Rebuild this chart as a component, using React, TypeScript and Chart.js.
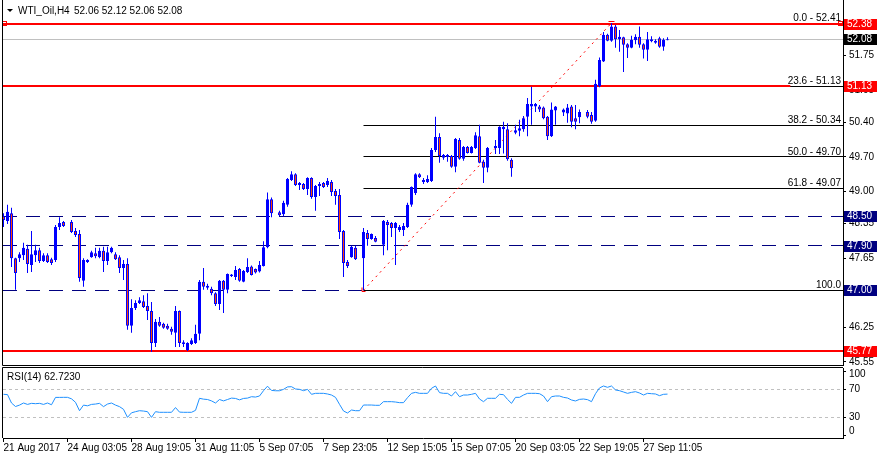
import React, { useEffect, useRef } from "react";
import { Chart, registerables } from "chart.js";

Chart.register(...registerables);

const FONT = "'Liberation Sans', Arial, sans-serif";
const FONT_CSS = "10px 'Liberation Sans', Arial, sans-serif";
const BLUE = "#0000FF";
const BEAR_FILL = "#FF4500";
const NAVY = "#000080";
const RED = "#FF0000";

const symbolTitle = "WTI_Oil,H4";
const lastOHLC = [52.06, 52.12, 52.06, 52.08];

const opens = [
  48.50, 48.40, 48.56, 47.65, 47.65, 47.71, 47.84, 47.51, 47.71, 47.81,
  47.59, 47.71, 47.63, 47.61, 48.28, 48.38, null, 48.38, 48.20, 48.14,
  47.19, 47.57, 47.67, 47.75, 47.67, 47.80, 47.59, 47.77, 47.73, 47.67,
  47.45, 47.53, 46.28, 46.64, 46.74, 46.78, 46.68, 46.58, 45.93, 46.36,
  46.32, 46.28, 46.22, 46.14, 46.58, 45.91, 45.79, 45.91, 45.93, 46.12,
  47.17, 47.05, 47.03, 46.94, 46.72, 47.19, 47.01, 47.29, 47.27, 47.43,
  47.17, 47.37, 47.48, 47.43, 47.38, 47.49, 47.87, 48.84, null, 48.58,
  48.54, 48.73, 49.23, 49.35, 49.13, 49.15, 49.05, 49.27, 48.89, 49.11,
  49.17, 49.13, 49.19, 49.01, 48.93, 48.20, 47.57, 47.67, 47.86, null,
  47.65, 48.16, 48.04, 48.06, null, 47.92, 48.38, 48.36, 48.26, 48.22,
  48.22, 48.28, 48.73, 48.97, 49.35, 49.19, 49.19, 49.21, 49.84, 50.10,
  49.68, 49.74, 49.72, 49.50, 50.04, 49.66, 49.90, 49.78, 49.88, 50.12,
  49.60, 49.48, null, 49.88, 49.88, 50.26, 50.26, 49.64, 50.19, 50.23,
  50.26, 50.51, 50.72, 50.72, 50.72, 50.70, 50.51, 50.12, 50.64, null,
  50.60, 50.58, 50.72, 50.48, 50.50, null, 50.61, 50.55, 50.43, 51.13,
  51.63, 52.17, 52.05, 52.34, 52.08, 52.12, 51.98, 51.91, 52.06, 52.13,
  51.98, 51.87, 52.08, 52.01, 52.10, 51.93, 52.06,
];
const highs = [
  48.56, 48.73, 48.67, 47.66, 47.77, 47.96, 47.92, 48.20, 47.92, 47.86,
  47.75, 47.75, 47.66, 48.32, 48.48, 48.40, null, 48.42, 48.26, 48.22,
  47.65, 47.63, 47.80, 47.86, 47.86, 47.88, 47.88, 47.88, 47.77, 47.71,
  47.61, 47.65, 46.82, 46.80, 46.86, 46.90, 46.94, 46.76, 46.42, 46.46,
  46.34, 46.32, 46.26, 46.68, 46.59, 45.99, 45.95, 46.03, 46.30, 47.21,
  47.45, 47.13, 47.07, 46.96, 47.21, 47.21, 47.34, 47.33, 47.49, 47.45,
  47.41, 47.65, 47.50, 47.44, 47.59, 47.99, 48.98, 48.88, null, 48.61,
  48.81, 49.27, 49.41, 49.37, 49.19, 49.17, 49.29, 49.29, 49.13, 49.19,
  49.19, 49.27, 49.23, 49.05, 49.05, 48.22, 47.61, 47.90, 47.90, null,
  48.26, 48.22, 48.15, 48.10, null, 48.42, 48.42, 48.38, 48.38, 48.32,
  48.36, 48.77, 49.10, 49.37, 49.37, 49.27, 49.33, 49.88, 50.51, 50.18,
  49.76, 49.76, 49.74, 50.08, 50.08, 49.92, 49.92, 49.92, 50.20, 50.35,
  49.64, 49.90, null, 50.04, 50.32, 50.41, 50.38, 49.67, 50.35, 50.45,
  50.53, 50.89, 51.12, 50.79, 50.75, 50.72, 50.53, 50.80, 50.73, null,
  50.68, 50.77, 50.75, 50.75, 50.66, null, 50.65, 50.61, 51.26, 51.71,
  52.23, 52.19, 52.41, 52.37, 52.27, 52.13, 52.00, 52.15, 52.18, 52.34,
  52.00, 52.23, 52.14, 52.08, 52.13, 52.10, 52.12,
];
const lows = [
  48.28, 48.34, 47.47, 47.01, 47.57, 47.61, 47.35, 47.37, 47.57, 47.55,
  47.57, 47.55, 47.51, 47.57, 48.22, 48.28, null, 48.16, 48.08, 47.17,
  47.07, 47.55, 47.66, 47.65, 47.65, 47.37, 47.51, 47.75, 47.61, 47.35,
  47.21, 46.20, 46.14, 46.60, 46.72, 46.64, 46.40, 45.75, 45.85, 46.26,
  46.22, 46.20, 46.10, 45.85, 45.85, 45.85, 45.77, 45.89, 45.91, 45.99,
  47.01, 47.01, 46.90, 46.68, 46.60, 46.54, 46.94, 47.27, 47.21, 47.17,
  47.16, 47.35, 47.30, 47.34, 47.36, 47.48, 47.85, 48.48, null, 48.50,
  48.50, 48.69, 49.21, 49.11, 49.03, 49.03, 48.93, 48.85, 48.61, 48.91,
  49.07, 49.09, 48.91, 48.73, 48.04, 47.27, 47.45, 47.66, 47.61, null,
  47.00, 47.90, 48.02, 47.97, null, 47.71, 47.81, 48.08, 47.51, 48.18,
  48.10, 48.26, 48.69, 48.93, 49.27, 49.15, 49.17, 49.19, 49.80, 49.58,
  49.64, 49.60, 49.48, 49.39, 49.64, 49.62, 49.77, 49.77, 49.86, 49.57,
  49.17, 49.39, null, 49.76, 49.76, 49.77, 49.62, 49.30, 50.16, 50.12,
  50.21, 50.12, 50.35, 50.61, 50.61, 50.46, 50.04, 50.10, 50.35, null,
  50.53, 50.39, 50.30, 50.26, 50.38, null, 50.48, 50.37, 50.41, 51.11,
  51.62, 52.04, 52.03, 51.91, 51.83, 51.42, 51.70, 51.90, 51.98, 51.91,
  51.69, 51.64, 52.02, 51.99, 51.91, 51.85, 52.06,
];
const closes = [
  48.42, 48.59, 47.65, 47.35, 47.73, 47.86, 47.53, 47.73, 47.81, 47.59,
  47.71, 47.57, 47.55, 48.28, 48.36, 48.30, null, 48.18, 48.12, 47.25,
  47.61, 47.61, 47.77, 47.69, 47.80, 47.59, 47.77, 47.86, 47.63, 47.45,
  47.53, 46.28, 46.64, 46.74, 46.80, 46.66, 46.58, 45.93, 46.36, 46.28,
  46.24, 46.22, 46.16, 46.58, 45.93, 45.95, 45.93, 45.99, 46.12, 47.17,
  47.07, 47.09, 46.94, 46.72, 47.19, 47.01, 47.33, 47.32, 47.41, 47.19,
  47.39, 47.47, 47.31, 47.36, 47.51, 47.87, 48.84, 48.56, null, 48.52,
  48.77, 49.25, 49.35, 49.13, 49.17, 49.05, 49.27, 48.89, 49.11, 49.15,
  49.09, 49.21, 48.99, 48.91, 48.18, 47.55, 47.49, 47.88, 47.63, null,
  48.18, 48.04, 48.14, 47.98, null, 48.40, 48.32, 48.26, 48.36, 48.28,
  48.30, 48.73, 49.09, 49.35, 49.29, 49.23, 49.25, 49.84, 50.10, 49.72,
  49.74, 49.70, 49.50, 50.06, 49.66, 49.90, 49.78, 49.90, 50.14, 49.58,
  49.48, 49.88, null, 49.92, 50.31, 50.31, 49.65, 49.47, 50.24, 50.28,
  50.48, 50.77, 50.77, 50.77, 50.66, 50.48, 50.12, 50.66, 50.72, null,
  50.66, 50.70, 50.41, 50.41, 50.61, null, 50.51, 50.41, 51.18, 51.66,
  52.17, 52.05, 52.34, 52.08, 52.13, 51.97, 51.91, 52.07, 52.13, 51.97,
  51.87, 52.08, 52.04, 52.05, 51.93, 52.07, 52.08,
];

const rsi14 = [
  62.4, 62, 50, 45, 47, 50, 48, 49.5, 49, 49.5,
  48, 50, 47.5, 58, 58, 58.1, 58.1, 56, 51, 39,
  47, 46, 48, 48.5, 49.5, 44.8, 48.5, 50, 47, 44.8,
  41, 29.5, 36, 37.6, 39, 38.5, 37.6, 29.5, 37.6, 36.7,
  36.7, 36.7, 36.7, 43.5, 37, 36.7, 36.7, 36.7, 39.5, 56.7,
  55.5, 55, 53, 50, 55, 53, 55, 57, 56.5, 54.5,
  56.5, 57, 59, 58.5, 60, 67.6, 74, 68, 67.5, 67.5,
  69.5, 73, 73.3, 70, 69.5, 67.6, 69.5, 62.4, 63.8, 63.8,
  63.8, 62.9, 61.4, 58.1, 48.1, 38.6, 35.7, 40, 39, 39,
  47.1, 47.1, 47.1, 46.7, 46.7, 51.9, 51.9, 51.9, 51.4, 50.5,
  50.5, 57.6, 63.8, 65.2, 63.8, 63.8, 63.8, 71, 74.3, 64.8,
  63.8, 63.8, 60, 66.2, 59, 61.4, 61.4, 62.4, 63.8, 55.7,
  51.9, 56.7, 56.7, 56.7, 62.4, 61.9, 55.2, 49.5, 58.1, 58.1,
  61.4, 63.8, 63.8, 63.8, 63.3, 60, 51.9, 59, 60, 60,
  58.1, 57.1, 54.3, 52.9, 55.2, 55.7, 54.8, 51.9, 63.3, 71.5,
  74.3, 72.4, 74.3, 68.6, 67.6, 65.7, 63.8, 65.2, 66.2, 64.3,
  61.4, 63.8, 63.3, 62.9, 60.5, 62.4, 62.72,
];
const rsiPeriod = 14;
const rsiLast = 62.723;

const timeTickBars = [0, 16, 32, 48, 64, 80, 96, 112, 128, 144, 160];
const timeTickLabels = [
  "21 Aug 2017", "24 Aug 03:05", "28 Aug 19:05", "31 Aug 11:05", "5 Sep 07:05",
  "7 Sep 23:05", "12 Sep 15:05", "15 Sep 07:05", "20 Sep 03:05", "22 Sep 19:05", "27 Sep 11:05",
];

const priceTicks = [51.75, 51.05, 50.40, 49.70, 49.00, 48.35, 47.65, 46.95, 46.25, 45.55];
const rsiTicks = [100, 70, 30, 0];
const rsiLevels = [70, 30];

const X_MIN = -0.125;
const X_MAX = 209.875;
const Y_MIN = 45.487;
const Y_MAX = 52.815;

const bidPrice = 52.08;
const redLines = [
  { price: 52.38, from: X_MIN, to: X_MAX },
  { price: 51.13, from: X_MIN, to: 196.7 },
  { price: 45.77, from: X_MIN, to: X_MAX },
];
const dashedLevels = [48.50, 47.90, 47.00];
const fibLowBar = 90;
const fibLow = 47.00;
const fibHighBar = 152;
const fibHigh = 52.41;
const fibRatios = [0, 23.6, 38.2, 50.0, 61.8, 100];
const fibLabels = ["0.0 - 52.41", "23.6 - 51.13", "38.2 - 50.34", "50.0 - 49.70", "61.8 - 49.07", "100.0"];
const priceTags = [
  { price: 52.38, bg: RED },
  { price: 52.08, bg: "#000000" },
  { price: 51.13, bg: RED },
  { price: 48.50, bg: NAVY },
  { price: 47.90, bg: NAVY },
  { price: 47.00, bg: NAVY },
  { price: 45.77, bg: RED },
];

const crisp = (v: number) => Math.floor(v) + 0.5;

function hline(ctx: CanvasRenderingContext2D, x1: number, x2: number, y: number) {
  ctx.beginPath();
  ctx.moveTo(x1, y);
  ctx.lineTo(x2, y);
  ctx.stroke();
}

const mainOverlay = {
  id: "mainOverlay",
  beforeDatasetsDraw(chart: any) {
    const { ctx, chartArea: a, scales } = chart;
    const x = scales.x;
    const y = scales.y;
    ctx.save();
    ctx.beginPath();
    ctx.rect(a.left, 0, a.right - a.left, a.bottom);
    ctx.clip();
    // bid line
    ctx.lineWidth = 1;
    ctx.strokeStyle = "#C0C0C0";
    hline(ctx, a.left, a.right, crisp(y.getPixelForValue(bidPrice)));
    // dashed navy levels
    ctx.strokeStyle = NAVY;
    ctx.setLineDash([14, 9]);
    for (const p of dashedLevels) hline(ctx, a.left, a.right, crisp(y.getPixelForValue(p)));
    ctx.setLineDash([]);
    // fib levels
    ctx.strokeStyle = "#000000";
    const fx = x.getPixelForValue(fibLowBar);
    for (const r of fibRatios) {
      const p = fibHigh - (r / 100) * (fibHigh - fibLow);
      hline(ctx, fx, a.right, crisp(y.getPixelForValue(p)));
    }
    // red lines
    ctx.strokeStyle = RED;
    ctx.lineWidth = 2;
    for (const l of redLines) {
      hline(ctx, x.getPixelForValue(l.from), x.getPixelForValue(l.to), Math.round(y.getPixelForValue(l.price)));
    }
    // fib trend (dotted)
    ctx.lineWidth = 1;
    ctx.setLineDash([2, 4]);
    ctx.beginPath();
    ctx.moveTo(x.getPixelForValue(fibLowBar), y.getPixelForValue(fibLow));
    ctx.lineTo(x.getPixelForValue(fibHighBar), y.getPixelForValue(fibHigh));
    ctx.stroke();
    ctx.setLineDash([]);
    ctx.restore();
  },
  afterDraw(chart: any) {
    const { ctx, chartArea: a, scales } = chart;
    const x = scales.x;
    const y = scales.y;
    ctx.save();
    ctx.font = FONT_CSS;
    // fib labels
    ctx.fillStyle = "#000000";
    ctx.textAlign = "right";
    ctx.textBaseline = "alphabetic";
    fibRatios.forEach((r, i) => {
      const p = fibHigh - (r / 100) * (fibHigh - fibLow);
      ctx.fillText(fibLabels[i], a.right - 2, Math.round(y.getPixelForValue(p)) - 2);
    });
    // markers of selected objects
    ctx.strokeStyle = RED;
    ctx.lineWidth = 1;
    const ry = Math.round(y.getPixelForValue(redLines[0].price));
    ctx.strokeRect(2.5, ry - 2.5, 4, 4);
    ctx.strokeRect(a.right - 4.5, ry - 2.5, 4, 4);
    ctx.beginPath();
    const hx = x.getPixelForValue(fibHighBar);
    const hy = Math.round(y.getPixelForValue(fibHigh)) - 1.5;
    ctx.moveTo(hx - 3, hy);
    ctx.lineTo(hx + 3, hy);
    const lx = x.getPixelForValue(fibLowBar);
    const ly = Math.round(y.getPixelForValue(fibLow)) + 0.5;
    ctx.moveTo(lx - 1.5, ly - 3);
    ctx.lineTo(lx - 1.5, ly + 1);
    ctx.lineTo(lx + 2, ly + 1);
    ctx.stroke();
    // title
    ctx.fillStyle = "#000000";
    ctx.beginPath();
    ctx.moveTo(7, 9);
    ctx.lineTo(13, 9);
    ctx.lineTo(10, 12);
    ctx.closePath();
    ctx.fill();
    ctx.textAlign = "left";
    ctx.textBaseline = "middle";
    ctx.fillText(symbolTitle, 18, 11);
    ctx.fillText(lastOHLC.map((v) => v.toFixed(2)).join(" "), 74, 11);
    // price tags
    for (const t of priceTags) {
      const yy = Math.round(y.getPixelForValue(t.price));
      ctx.fillStyle = t.bg;
      ctx.fillRect(a.right + 1, yy - 5, 33, 11);
      ctx.fillStyle = "#FFFFFF";
      ctx.fillText(t.price.toFixed(2), a.right + 4, yy + 0.5);
    }
    // frame
    ctx.strokeStyle = "#000000";
    ctx.lineWidth = 1;
    ctx.beginPath();
    ctx.moveTo(2.5, 0);
    ctx.lineTo(2.5, a.bottom + 0.5);
    ctx.lineTo(a.right + 0.5, a.bottom + 0.5);
    ctx.moveTo(a.right + 0.5, 0);
    ctx.lineTo(a.right + 0.5, a.top);
    ctx.stroke();
    ctx.restore();
  },
};

const rsiOverlay = {
  id: "rsiOverlay",
  beforeDatasetsDraw(chart: any) {
    const { ctx, chartArea: a, scales } = chart;
    const y = scales.y;
    ctx.save();
    ctx.strokeStyle = "#C0C0C0";
    ctx.lineWidth = 1;
    ctx.setLineDash([3, 3]);
    for (const lv of rsiLevels) hline(ctx, a.left, a.right, crisp(y.getPixelForValue(lv)));
    ctx.restore();
  },
  afterDraw(chart: any) {
    const { ctx, chartArea: a, scales } = chart;
    const y = scales.y;
    ctx.save();
    ctx.font = FONT_CSS;
    ctx.fillStyle = "#000000";
    ctx.strokeStyle = "#000000";
    ctx.lineWidth = 1;
    ctx.textAlign = "left";
    ctx.textBaseline = "middle";
    for (const v of rsiTicks) {
      const raw = y.getPixelForValue(v);
      const ly = Math.min(Math.max(raw, a.top + 6), a.bottom - 7);
      const ty = crisp(Math.min(Math.max(raw, a.top + 3), a.bottom - 3));
      hline(ctx, a.right, a.right + 3, ty);
      ctx.fillText(String(v), a.right + 6, ly);
    }
    ctx.fillText(`RSI(${rsiPeriod}) ${rsiLast.toFixed(4)}`, 7, a.top + 9);
    ctx.beginPath();
    ctx.moveTo(2.5, a.bottom);
    ctx.lineTo(2.5, a.top - 0.5);
    ctx.lineTo(a.right, a.top - 0.5);
    ctx.stroke();
    ctx.restore();
  },
};

export default function App() {
  const mainRef = useRef<HTMLCanvasElement>(null);
  const rsiRef = useRef<HTMLCanvasElement>(null);

  useEffect(() => {
    document.body.style.margin = "0";
    const wickData: any[] = [];
    const bodyData: any[] = [];
    const bodyColors: string[] = [];
    for (let i = 0; i < opens.length; i++) {
      const o = opens[i];
      const c = closes[i];
      if (o == null || c == null) continue;
      wickData.push({ x: i, y: [lows[i], highs[i]] });
      bodyData.push({ x: i, y: [o, c] });
      bodyColors.push(c >= o ? BLUE : BEAR_FILL);
    }

    const main = new Chart(mainRef.current as HTMLCanvasElement, {
      type: "bar",
      data: {
        datasets: [
          {
            label: "body",
            data: bodyData,
            backgroundColor: bodyColors,
            borderColor: BLUE,
            borderWidth: 1,
            borderSkipped: false,
            barThickness: 3,
            minBarLength: 1,
            grouped: false,
            inflateAmount: 0,
            order: 0,
          } as any,
          {
            label: "wick",
            data: wickData,
            backgroundColor: BLUE,
            borderWidth: 0,
            barThickness: 1,
            grouped: false,
            inflateAmount: 0,
            order: 1,
          } as any,
        ],
      },
      options: {
        responsive: false,
        animation: false,
        devicePixelRatio: 1,
        events: [],
        layout: { padding: { left: 3, top: 3, right: 0, bottom: 94 }, autoPadding: false } as any,
        plugins: { legend: { display: false }, tooltip: { enabled: false } },
        scales: {
          x: { type: "linear", min: X_MIN, max: X_MAX, offset: false, display: false },
          y: {
            type: "linear",
            position: "right",
            min: Y_MIN,
            max: Y_MAX,
            beginAtZero: false,
            afterBuildTicks: (s: any) => {
              s.ticks = priceTicks.map((v) => ({ value: v }));
            },
            afterFit: (s: any) => {
              s.width = 40;
              s.paddingTop = 0;
              s.paddingBottom = 0;
            },
            ticks: {
              autoSkip: false,
              font: { family: FONT, size: 10 },
              color: "#000000",
              padding: 3,
              callback: (v: any) => Number(v).toFixed(2),
            },
            grid: { display: true, drawOnChartArea: false, drawTicks: true, tickLength: 3, color: "#000000" },
            border: { display: true, color: "#000000", width: 1 },
          } as any,
        },
      },
      plugins: [mainOverlay],
    });

    const rsiChart = new Chart(rsiRef.current as HTMLCanvasElement, {
      type: "line",
      data: {
        datasets: [
          {
            data: rsi14.map((v, i) => ({ x: i, y: v })),
            borderColor: "#1E90FF",
            borderWidth: 1,
            pointRadius: 0,
            tension: 0,
            fill: false,
          } as any,
        ],
      },
      options: {
        responsive: false,
        animation: false,
        devicePixelRatio: 1,
        events: [],
        layout: { padding: { left: 3, top: 368, right: 0, bottom: 0 }, autoPadding: false } as any,
        plugins: { legend: { display: false }, tooltip: { enabled: false } },
        scales: {
          x: {
            type: "linear",
            min: X_MIN,
            max: X_MAX,
            offset: false,
            position: "bottom",
            afterBuildTicks: (s: any) => {
              s.ticks = timeTickBars.map((v) => ({ value: v }));
            },
            afterFit: (s: any) => {
              s.height = 21;
              s.paddingLeft = 0;
              s.paddingRight = 0;
            },
            ticks: {
              autoSkip: false,
              maxRotation: 0,
              minRotation: 0,
              align: "start",
              padding: 0,
              font: { family: FONT, size: 10 },
              color: "#000000",
              callback: (_v: any, i: number) => timeTickLabels[i],
            },
            grid: { display: true, drawOnChartArea: false, drawTicks: true, tickLength: 4, color: "#000000" },
            border: { display: true, color: "#000000", width: 1 },
          } as any,
          y: {
            type: "linear",
            position: "right",
            min: 0,
            max: 100,
            ticks: { display: false },
            grid: { display: false },
            border: { display: true, color: "#000000", width: 1 },
            afterFit: (s: any) => {
              s.width = 40;
              s.paddingTop = 0;
              s.paddingBottom = 0;
            },
          } as any,
        },
      },
      plugins: [rsiOverlay],
    });

    return () => {
      main.destroy();
      rsiChart.destroy();
    };
  }, []);

  const canvasStyle: React.CSSProperties = { position: "absolute", left: 0, top: 0, width: 883, height: 459 };
  return (
    <div style={{ position: "relative", width: 883, height: 459, background: "#FFFFFF" }}>
      <canvas ref={mainRef} width={883} height={459} style={canvasStyle} />
      <canvas ref={rsiRef} width={883} height={459} style={canvasStyle} />
    </div>
  );
}
